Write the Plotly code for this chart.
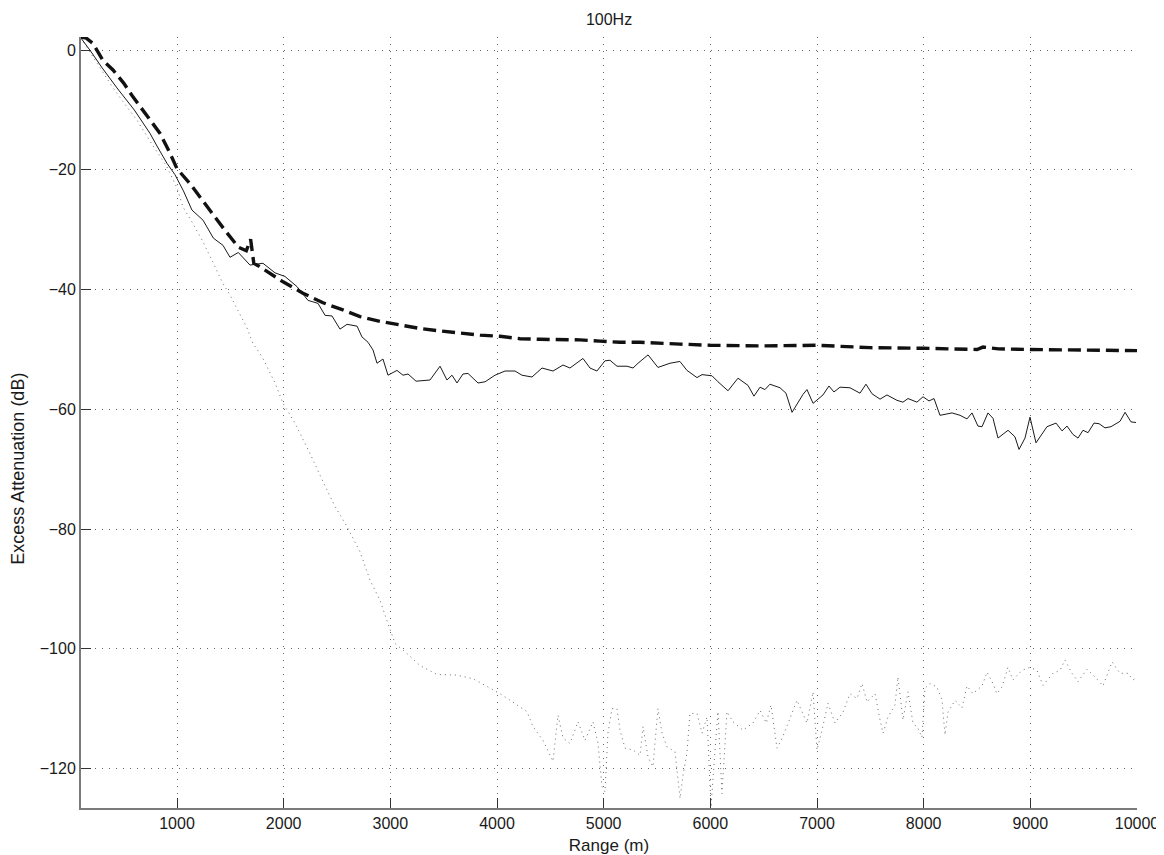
import plotly.graph_objects as go

# range (m) and excess attenuation (dB)
solid_x = [100, 184, 300, 437, 600, 747, 812, 906, 981, 1060, 1140, 1244, 1341, 1431, 1497,
           1575, 1684, 1806, 1919, 2012, 2125, 2228, 2322, 2388, 2453, 2528, 2594, 2688, 2734,
           2791, 2838, 2875, 2931, 2978, 3062, 3119, 3166, 3241, 3372, 3466, 3531, 3578, 3625,
           3681, 3728, 3822, 3888, 3981, 4075, 4169, 4234, 4328, 4422, 4525, 4619, 4684, 4806,
           4872, 4937, 5012, 5059, 5125, 5219, 5275, 5322, 5416, 5509, 5622, 5715, 5781, 5875,
           5922, 6016, 6072, 6166, 6259, 6353, 6409, 6466, 6512, 6559, 6653, 6709, 6766, 6869,
           6906, 6963, 7056, 7112, 7159, 7216, 7309, 7403, 7459, 7516, 7591, 7656, 7750, 7806,
           7853, 7937, 7994, 8050, 8097, 8153, 8266, 8341, 8406, 8453, 8509, 8547, 8603, 8650,
           8697, 8791, 8856, 8894, 8950, 8997, 9053, 9156, 9241, 9297, 9344, 9400, 9447, 9494,
           9541, 9597, 9644, 9700, 9756, 9841, 9888, 9944, 9991]
solid_y = [2.0, 0.0, -3.0, -6.3, -10.0, -13.9, -16.0, -18.9, -20.8, -23.5, -26.7, -28.4, -31.4,
           -32.6, -34.6, -33.8, -35.9, -35.6, -37.2, -37.8, -39.5, -41.8, -42.3, -44.3, -44.4,
           -46.6, -45.8, -46.1, -47.9, -48.8, -50.1, -52.3, -51.6, -54.3, -53.5, -54.3, -54.1,
           -55.3, -55.1, -52.8, -55.1, -54.3, -55.6, -54.1, -54.0, -55.6, -55.4, -54.3, -53.6,
           -53.6, -54.3, -54.6, -53.1, -53.6, -52.6, -53.1, -51.5, -53.1, -53.6, -51.9, -51.8,
           -52.8, -52.8, -53.1, -52.3, -50.9, -53.0, -52.3, -52.0, -53.5, -54.7, -54.2, -54.4,
           -55.4, -56.9, -54.8, -56.0, -57.8, -56.3, -56.7, -55.8, -56.4, -57.3, -60.5, -57.5,
           -56.7, -59.0, -57.6, -56.1, -57.1, -56.3, -56.4, -57.3, -55.8, -57.4, -58.3, -57.6,
           -58.5, -58.8, -58.2, -58.8, -57.9, -58.6, -58.2, -61.0, -60.6, -61.0, -61.6, -60.6,
           -62.8, -62.9, -60.6, -61.5, -64.8, -63.5, -64.6, -66.7, -64.8, -61.3, -65.6, -62.9,
           -62.3, -63.6, -62.8, -64.2, -64.8, -63.5, -63.9, -62.3, -62.4, -63.1, -62.9, -62.0,
           -60.5, -62.1, -62.2]

dashed_x = [100, 150, 213, 306, 400, 500, 587, 719, 841, 934, 1000, 1122, 1234, 1338, 1450,
            1575, 1650, 1690, 1720, 1760, 1872, 1994, 2181, 2369, 2556, 2716, 2903, 3091, 3278,
            3466, 3653, 3841, 4028, 4216, 4403, 4591, 4778, 4966, 5153, 5341, 5528, 5716, 6000,
            6466, 7000, 7497, 7994, 8500, 8556, 8700, 8997, 9494, 9841, 10000]
dashed_y = [2.2, 2.0, 1.1, -1.7, -3.3, -5.5, -7.8, -10.9, -13.9, -17.2, -19.8, -22.3, -25.0,
            -27.6, -30.1, -32.9, -33.5, -31.6, -35.6, -36.0, -37.3, -38.7, -40.6, -42.2, -43.4,
            -44.5, -45.3, -45.9, -46.5, -46.9, -47.3, -47.6, -47.8, -48.2, -48.3, -48.3, -48.4,
            -48.6, -48.8, -48.8, -49.0, -49.1, -49.3, -49.4, -49.3, -49.7, -49.8, -50.0, -49.6,
            -49.9, -50.0, -50.1, -50.2, -50.2]

dotted_x = [100, 200, 300, 400, 531, 625, 775, 900, 1000, 1056, 1140, 1234, 1328, 1422, 1497,
            1591, 1656, 1712, 1797, 1919, 1994, 2106, 2250, 2380, 2481, 2594, 2716, 2809, 2903,
            2978, 3044, 3156, 3278, 3438, 3625, 3775, 3934, 4028, 4122, 4281, 4338, 4431, 4525,
            4572, 4619, 4684, 4759, 4825, 4900, 4947, 4984, 5012, 5040, 5078, 5125, 5153, 5200,
            5275, 5341, 5369, 5416, 5462, 5509, 5547, 5594, 5669, 5716, 5744, 5781, 5809, 5875,
            5922, 5969, 6006, 6044, 6072, 6109, 6156, 6212, 6306, 6400, 6466, 6525, 6569, 6625,
            6672, 6747, 6812, 6906, 6963, 7000, 7047, 7103, 7169, 7244, 7309, 7375, 7422, 7469,
            7544, 7591, 7619, 7666, 7731, 7759, 7806, 7853, 7900, 7947, 7984, 8012, 8059, 8125,
            8172, 8200, 8228, 8294, 8359, 8406, 8462, 8547, 8594, 8641, 8687, 8734, 8790, 8837,
            8922, 8997, 9062, 9119, 9212, 9278, 9325, 9391, 9447, 9531, 9606, 9681, 9728, 9766,
            9841, 9916, 9962, 10000]
dotted_y = [2.0, -0.8, -3.5, -6.3, -9.5, -11.7, -16.0, -19.3, -23.0, -26.2, -28.7, -31.7,
            -35.1, -38.7, -40.9, -44.3, -46.4, -49.0, -51.2, -55.6, -59.0, -62.3, -67.5, -72.5,
            -76.2, -79.6, -83.8, -88.5, -91.9, -95.8, -99.1, -100.8, -102.8, -104.3, -104.4,
            -105.0, -106.6, -107.5, -108.6, -110.5, -113.0, -115.3, -118.8, -111.1, -114.9,
            -115.8, -112.2, -115.3, -112.2, -115.8, -123.0, -123.9, -114.1, -110.0, -110.0,
            -113.6, -116.6, -116.9, -117.8, -113.0, -118.1, -119.7, -110.0, -114.1, -116.4,
            -117.2, -125.0, -121.1, -117.4, -110.8, -110.8, -114.1, -111.4, -126.5, -116.9,
            -110.5, -124.2, -110.5, -112.2, -113.6, -112.4, -110.3, -112.4, -109.4, -116.6,
            -115.0, -111.6, -108.6, -112.4, -107.2, -116.9, -113.6, -109.1, -112.4, -110.6,
            -107.5, -108.3, -105.8, -108.9, -107.5, -111.9, -114.1, -111.4, -109.4, -104.7,
            -111.9, -107.2, -112.4, -113.3, -114.8, -106.6, -105.8, -106.4, -108.6, -114.4,
            -110.6, -108.6, -109.9, -106.2, -107.5, -106.2, -103.9, -105.5, -107.5, -106.4,
            -103.1, -105.2, -103.6, -103.1, -103.6, -106.1, -104.1, -103.6, -101.9, -104.1,
            -105.5, -103.4, -104.7, -106.2, -103.9, -102.2, -104.1, -104.1, -105.2, -104.9]

x_ticks = [1000, 2000, 3000, 4000, 5000, 6000, 7000, 8000, 9000, 10000]
x_labels = ["1000", "2000", "3000", "4000", "5000", "6000", "7000", "8000", "9000", "10000"]
y_ticks = [-120, -100, -80, -60, -40, -20, 0]
y_labels = ["\u2212120", "\u2212100", "\u221280", "\u221260", "\u221240", "\u221220", "0"]

FONT = "Liberation Sans, Arial, Helvetica, sans-serif"

fig = go.Figure()

fig.add_trace(go.Scatter(x=dotted_x, y=dotted_y, mode="lines",
                         line=dict(color="#6a6a6a", width=1, dash="1px,4px")))
fig.add_trace(go.Scatter(x=solid_x, y=solid_y, mode="lines",
                         line=dict(color="#1a1a1a", width=1)))
fig.add_trace(go.Scatter(x=dashed_x, y=dashed_y, mode="lines",
                         line=dict(color="#111111", width=3.4, dash="13px,6px")))

axis_common = dict(
    showline=True, linecolor="#7a7a7a", linewidth=2,
    ticks="inside", ticklen=10, tickwidth=1, tickcolor="#333333",
    showgrid=True, gridcolor="#666666", gridwidth=1, griddash="1px,6px",
    zeroline=False, automargin=False,
    tickfont=dict(size=16, color="#1a1a1a", family=FONT),
)

fig.update_xaxes(range=[100, 10000], tickvals=x_ticks, ticktext=x_labels, **axis_common,
                 title=dict(text="Range (m)", font=dict(size=17, color="#1a1a1a", family=FONT),
                            standoff=9))
fig.update_yaxes(range=[-126.6, 2.2], tickvals=y_ticks, ticktext=y_labels, **axis_common)

fig.add_annotation(text="Excess Attenuation (dB)", textangle=-90,
                   xref="paper", yref="paper", x=-0.0597, y=0.44,
                   xanchor="center", yanchor="middle", showarrow=False,
                   font=dict(size=18, color="#1a1a1a", family=FONT))

# the page body has an 8px margin, so the figure is 8px smaller and shifted
fig.update_layout(
    width=1156, height=847,
    margin=dict(l=73, r=27, t=29, b=47, autoexpand=False),
    paper_bgcolor="white", plot_bgcolor="white",
    showlegend=False,
    title=dict(text="100Hz", x=0.5199, xanchor="center", y=0.987, yanchor="middle",
               font=dict(size=16, color="#1a1a1a", family=FONT), automargin=False),
)

fig.write_html("out.html")
